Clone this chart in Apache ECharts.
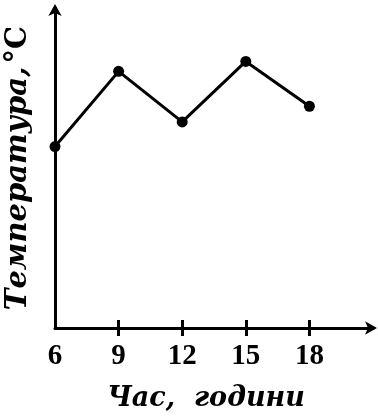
<!DOCTYPE html>
<html>
<head>
<meta charset="utf-8">
<script src="https://cdn.jsdelivr.net/npm/echarts@6/dist/echarts.min.js"></script>
<style>
  html, body { margin: 0; padding: 0; background: #fff; }
  #chart { width: 378px; height: 419px; }
</style>
</head>
<body>
<div id="chart"></div>
<script>
// години та температура (відносні одиниці, шкала без підписів)
const hours = [6, 9, 12, 15, 18]
const temps = [56.7, 80.2, 64.4, 83.3, 69.3]
const tickValues = [9, 12, 15, 18]
const labelValues = [6, 9, 12, 15, 18]

const chart = echarts.init(document.getElementById('chart'))

const serif = 'Liberation Serif'
const nameFont = 'DejaVu Serif'
const axisLine = {
  show: true,
  lineStyle: { color: '#000', width: 3 },
  symbol: ['none', 'arrow'],
  symbolSize: [10, 12],
  symbolOffset: [0, 4]
}

chart.setOption({
  animation: false,
  grid: { left: 55, right: 5, top: 8, bottom: 91, outerBoundsMode: 'none', containLabel: false },
  xAxis: [
    {
      type: 'value',
      min: 6,
      max: 21,
      interval: 3,
      axisLine: axisLine,
      splitLine: { show: false },
      axisTick: {
        show: true,
        length: 8,
        customValues: tickValues,
        lineStyle: { color: '#000', width: 3 }
      },
      axisLabel: {
        customValues: labelValues,
        margin: 14,
        color: '#000',
        fontFamily: serif,
        fontWeight: 'bold',
        fontSize: 29
      },
      name: 'Час,  години',
      nameLocation: 'middle',
      nameGap: 57,
      nameTextStyle: {
        color: '#000',
        fontFamily: nameFont,
        fontStyle: 'italic',
        fontWeight: 'bold',
        fontSize: 27,
        padding: [0, 16, 0, 0]
      }
    },
    {
      type: 'value',
      min: 6,
      max: 21,
      interval: 3,
      position: 'bottom',
      axisLine: { show: false },
      splitLine: { show: false },
      axisLabel: { show: false },
      axisTick: {
        show: true,
        inside: true,
        length: 8,
        customValues: tickValues,
        lineStyle: { color: '#000', width: 3 }
      }
    }
  ],
  yAxis: {
    type: 'value',
    min: 0,
    max: 100,
    axisLine: axisLine,
    axisTick: { show: false },
    axisLabel: { show: false },
    splitLine: { show: false },
    name: '{i|Температура,} {u|°C}',
    nameLocation: 'middle',
    nameGap: 22,
    nameTextStyle: {
      color: '#000',
      rich: {
        i: { fontFamily: nameFont, fontStyle: 'italic', fontWeight: 'bold', fontSize: 29, color: '#000' },
        u: { fontFamily: nameFont, fontWeight: 'bold', fontSize: 29, color: '#000' }
      }
    }
  },
  series: [{
    type: 'line',
    data: hours.map((h, i) => [h, temps[i]]),
    symbol: 'circle',
    symbolSize: 11,
    itemStyle: { color: '#000' },
    lineStyle: { color: '#000', width: 3 }
  }]
})
</script>
</body>
</html>
